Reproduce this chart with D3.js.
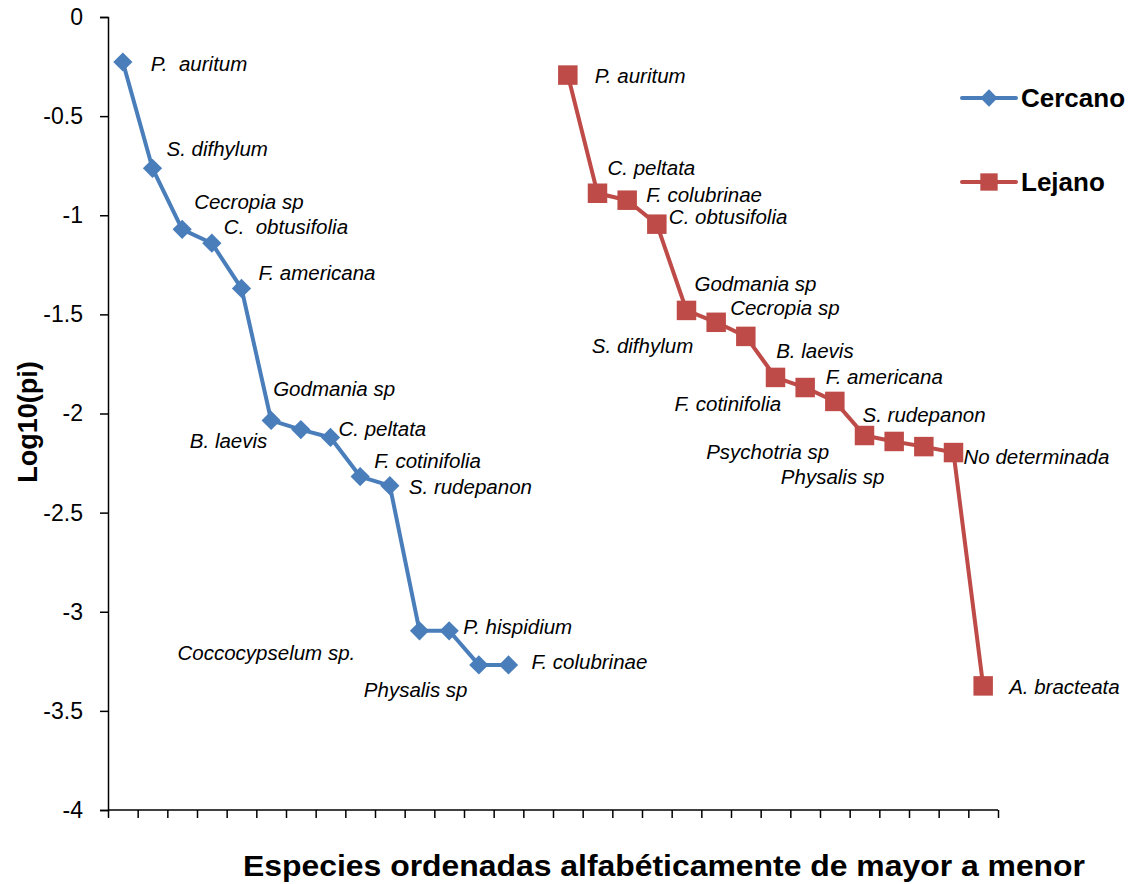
<!DOCTYPE html>
<html><head><meta charset="utf-8">
<script src="https://cdn.jsdelivr.net/npm/d3@7"></script>
<style>html,body{margin:0;padding:0;background:#fff;} text{white-space:pre;}</style>
</head><body>
<svg id="chart" width="1131" height="884"></svg>
<script>
// ---- data ----
const categoryCount = 30;
const cercanoIndex = [0,1,2,3,4,5,6,7,8,9,10,11,12,13];
const cercanoValues = [-0.227,-0.763,-1.071,-1.141,-1.369,-2.035,-2.081,-2.121,-2.318,-2.364,-3.096,-3.096,-3.268,-3.268];
const cercanoLabels = ["P.  auritum","S. difhylum","Cecropia sp","C.  obtusifolia","F. americana","Godmania sp","B. laevis","C. peltata","F. cotinifolia","S. rudepanon","Coccocypselum sp.","P. hispidium","Physalis sp","F. colubrinae"];
const lejanoIndex = [15,16,17,18,19,20,21,22,23,24,25,26,27,28,29];
const lejanoValues = [-0.293,-0.889,-0.924,-1.045,-1.480,-1.540,-1.611,-1.818,-1.869,-1.939,-2.111,-2.141,-2.167,-2.197,-3.374];
const lejanoLabels = ["P. auritum","C. peltata","F. colubrinae","C. obtusifolia","Godmania sp","Cecropia sp","S. difhylum","F. cotinifolia","B. laevis","F. americana","S. rudepanon","Psychotria sp","Physalis sp","No determinada","A. bracteata"];
const yTicks = [0,-0.5,-1,-1.5,-2,-2.5,-3,-3.5,-4];
const seriesNames = ["Cercano","Lejano"];

// label placement offsets (pixels from the point)
const cercanoOffsets = [[28,2],[14,-19],[12,-28],[12,-16],[17,-16],[2,-32],[-111,11],[8,-9],[14,-16],[19,1],[-242,22],[14,-4],[-115,25],[23,-3]];
const lejanoOffsets = [[27,1],[10,-25],[19,-5],[12,-7],[8,-27],[14,-14],[-154,9],[-101,26],[-29,-37],[-9,-25],[-2,-21],[-188,10],[-143,30],[10,4],[26,1]];

const colors = {Cercano:"#4A7EBB", Lejano:"#BE4B48"};
const FONT = "'Liberation Sans', Arial, sans-serif";

const svg = d3.select("#chart");
const x = d3.scaleLinear().domain([0, categoryCount]).range([108, 998]);
const y = d3.scaleLinear().domain([-4, 0]).range([810, 17]);

// axes
const yAxis = d3.axisLeft(y).tickValues(yTicks).tickSize(8).tickPadding(17)
  .tickFormat(d => String(d));
const gy = svg.append("g").attr("transform","translate(108,0)").call(yAxis);
gy.select(".domain").attr("stroke","#000").attr("stroke-width",1.5);
gy.selectAll(".tick line").attr("stroke","#000").attr("stroke-width",1.5);
gy.selectAll(".tick text").attr("font-family",FONT)
  .attr("font-size",23).attr("fill","#000");

const xAxis = d3.axisBottom(x).tickValues(d3.range(0, categoryCount+1)).tickSize(8).tickFormat("");
const gx = svg.append("g").attr("transform","translate(0,810)").call(xAxis);
gx.select(".domain").attr("stroke","#000").attr("stroke-width",1.5).attr("d","M108,0H998");
gx.selectAll(".tick line").attr("stroke","#000").attr("stroke-width",1.5);

// titles
svg.append("text").attr("transform","translate(37,422) rotate(-90)")
  .attr("text-anchor","middle").attr("font-family",FONT)
  .attr("font-weight","bold").attr("font-size",27).text("Log10(pi)");
svg.append("text").attr("x",664).attr("y",876)
  .attr("text-anchor","middle").attr("font-family",FONT)
  .attr("font-weight","bold").attr("font-size",30)
  .attr("textLength",842).attr("lengthAdjust","spacingAndGlyphs")
  .text("Especies ordenadas alfabéticamente de mayor a menor");

function markerTransform(type, cx, cy) {
  return type === "diamond" ? `translate(${cx},${cy}) rotate(45)` : `translate(${cx},${cy})`;
}
function drawSeries(name, idx, vals, labels, offs, type) {
  const pts = idx.map((c,i)=>({c, v:vals[i], label:labels[i], off:offs[i]}));
  const line = d3.line().x(d=>x(d.c+0.5)).y(d=>y(d.v));
  svg.append("path").datum(pts).attr("d",line).attr("fill","none")
    .attr("stroke",colors[name]).attr("stroke-width",4).attr("stroke-linejoin","round");
  const sym = d3.symbol().type(d3.symbolSquare).size(type==="square" ? 380 : 185);
  svg.append("g").selectAll("path").data(pts).join("path")
    .attr("d", sym)
    .attr("transform", d=> markerTransform(type, x(d.c+0.5), y(d.v)))
    .attr("fill",colors[name]);
  svg.append("g").selectAll("text").data(pts).join("text")
    .attr("x", d=>x(d.c+0.5)+d.off[0]).attr("y", d=>y(d.v)+d.off[1])
    .attr("dy","0.35em")
    .attr("font-family",FONT).attr("font-style","italic")
    .attr("font-size",20.5).attr("fill","#000")
    .text(d=>d.label);
}
drawSeries("Cercano", cercanoIndex, cercanoValues, cercanoLabels, cercanoOffsets, "diamond");
drawSeries("Lejano", lejanoIndex, lejanoValues, lejanoLabels, lejanoOffsets, "square");

// legend
const legend = svg.append("g");
seriesNames.forEach((n,i)=>{
  const ly = 98 + i*84;
  const type = i===0 ? "diamond" : "square";
  const g = legend.append("g");
  g.append("line").attr("x1",962).attr("x2",1016).attr("y1",ly).attr("y2",ly)
    .attr("stroke",colors[n]).attr("stroke-width",4).attr("stroke-linecap","round");
  g.append("path").attr("d", d3.symbol().type(d3.symbolSquare).size(type==="square" ? 300 : 150)())
    .attr("transform", markerTransform(type, 989, ly)).attr("fill",colors[n]);
  g.append("text").attr("x",1021).attr("y",ly).attr("dy","0.35em")
    .attr("font-family",FONT).attr("font-weight","bold")
    .attr("font-size",26).text(n);
});
</script>
</body></html>
